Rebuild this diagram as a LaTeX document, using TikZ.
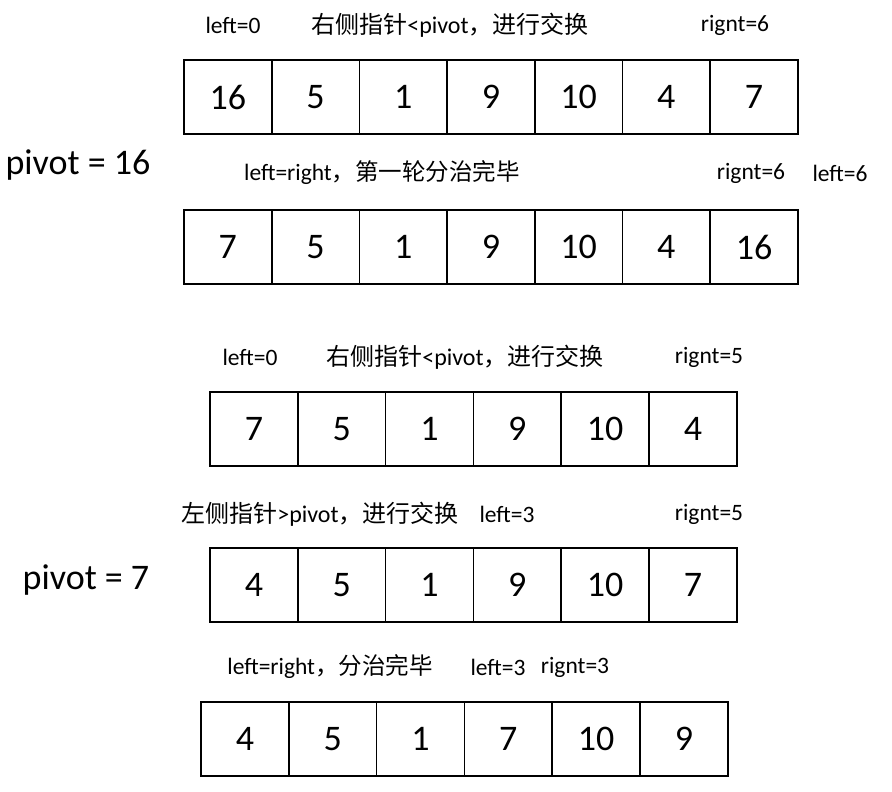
\documentclass[tikz,border=0pt]{standalone}
\usepackage{fontspec}
\setmainfont{Carlito}
\newfontfamily\cjk{Noto Sans CJK SC}

\tikzset{
  cell/.style={draw, line width=1.6pt, minimum width=87.7pt, minimum height=74pt,
    inner sep=0pt, outer sep=0pt, font=\fontsize{36}{36}\selectfont},
  tag/.style={inner sep=0pt, font=\fontsize{23.5}{24}\selectfont},
  note/.style={inner sep=0pt, font=\fontsize{24}{24}\selectfont},
  pivotlabel/.style={inner sep=0pt, font=\fontsize{36}{36}\selectfont}
}

\begin{document}
\begin{tikzpicture}[x=1pt,y=-1pt]

\useasboundingbox (0,0) rectangle (892,792);

%% pivot = 16, first step
\node [tag] (l1) at (233,25) {left=0};
\node [note] (m1) at (450,25) {{\cjk 右侧指针}<pivot{\cjk ，进行交换}};
\node [tag] (r1) at (735,25) {rignt=6};
\foreach \v [count=\i] in {16,5,1,9,10,4,7}
  \node [cell] (a\i) at ({184+87.7*(\i-0.5)},97) {\v};

\node [pivotlabel] (p1) at (78,165) {pivot = 16};

%% first round done
\node [tag] (m2) at (382,173) {left=right{\cjk ，第一轮分治完毕}};
\node [tag] (r2) at (751,173) {rignt=6};
\node [tag] (l2) at (840,173) {left=6};
\foreach \v [count=\i] in {7,5,1,9,10,4,16}
  \node [cell] (b\i) at ({184+87.7*(\i-0.5)},247) {\v};

%% pivot = 7, right pointer
\node [tag] (l3) at (250,357) {left=0};
\node [note] (m3) at (465,357) {{\cjk 右侧指针}<pivot{\cjk ，进行交换}};
\node [tag] (r3) at (709,357) {rignt=5};
\foreach \v [count=\i] in {7,5,1,9,10,4}
  \node [cell] (c\i) at ({210+87.8*(\i-0.5)},429) {\v};

%% left pointer
\node [note] (m4) at (320,514) {{\cjk 左侧指针}>pivot{\cjk ，进行交换}};
\node [tag] (l4) at (507,514) {left=3};
\node [tag] (r4) at (709,514) {rignt=5};
\foreach \v [count=\i] in {4,5,1,9,10,7}
  \node [cell] (d\i) at ({210+87.8*(\i-0.5)},585) {\v};

\node [pivotlabel] (p2) at (86,580) {pivot = 7};

%% second round done
\node [tag] (m5) at (330,667) {left=right{\cjk ，分治完毕}};
\node [tag] (l5) at (498,667) {left=3};
\node [tag] (r5) at (575,667) {rignt=3};
\foreach \v [count=\i] in {4,5,1,7,10,9}
  \node [cell] (e\i) at ({201+87.8*(\i-0.5)},739) {\v};

\end{tikzpicture}
\end{document}
